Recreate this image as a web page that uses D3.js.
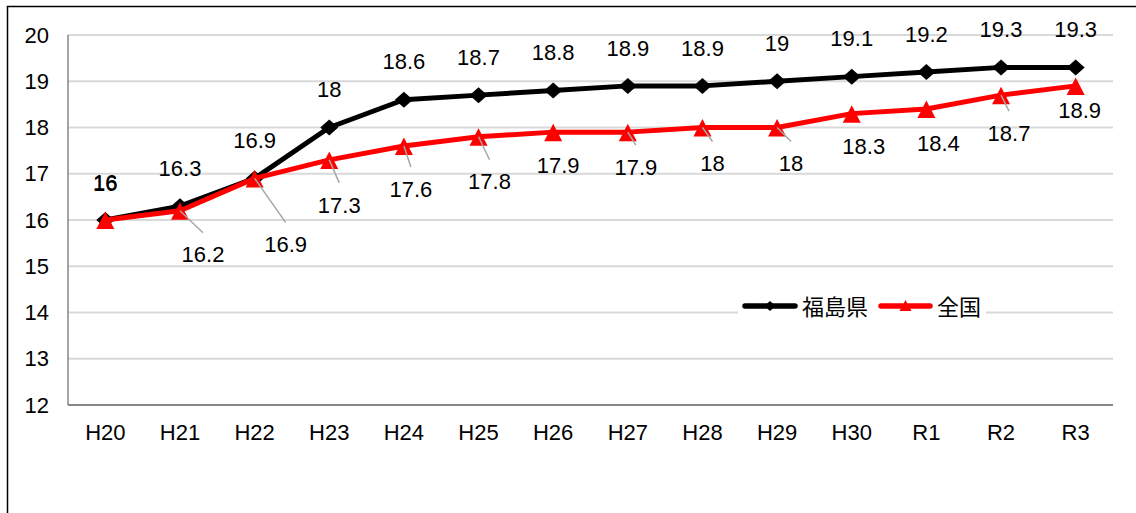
<!DOCTYPE html>
<html>
<head>
<meta charset="utf-8">
<script src="https://cdn.jsdelivr.net/npm/d3@7"></script>
<style>
  html, body { margin: 0; padding: 0; background: #fff; }
  svg { display: block; }
  text { font-family: "Liberation Sans", "Noto Sans CJK JP", sans-serif; fill: #000; }
</style>
</head>
<body>
<svg id="chart" width="1136" height="513"></svg>
<script>
// ----- data -----
const years = ['H20','H21','H22','H23','H24','H25','H26','H27','H28','H29','H30','R1','R2','R3'];
const fukushima = [16, 16.3, 16.9, 18, 18.6, 18.7, 18.8, 18.9, 18.9, 19, 19.1, 19.2, 19.3, 19.3];
const national  = [16, 16.2, 16.9, 17.3, 17.6, 17.8, 17.9, 17.9, 18, 18, 18.3, 18.4, 18.7, 18.9];
const yTicks = [12, 13, 14, 15, 16, 17, 18, 19, 20];
const seriesNames = ['福島県', '全国'];

// label placement for the red series (moved labels in the original, px offsets from the point)
const redLabelOffset = [
  [0,-37],[23,44],[31,66],[10,45],[7,43],[11,45],[5,33],
  [8,35],[10,36],[14,36],[12,33],[12,34],[8,38],[4,24]
];
const redLeader = [false,true,true,true,true,true,false,true,true,true,false,false,true,false];

// ----- layout -----
const svg = d3.select('#chart');
const plotL = 68, plotR = 1113, plotT = 35, plotB = 405;
const fs = 22;

const x = d3.scalePoint().domain(years).range([plotL, plotR]).padding(0.5);
const y = d3.scaleLinear().domain([12, 20]).range([plotB, plotT]);

// outer frame (cut off at right/bottom like the screenshot)
svg.append('rect')
  .attr('x', 7.5).attr('y', 6.5).attr('width', 1200).attr('height', 600)
  .attr('fill', '#fff').attr('stroke', '#000').attr('stroke-width', 1.5);

// gridlines
svg.append('g').selectAll('line')
  .data(yTicks.filter(d => d > 12))
  .join('line')
  .attr('x1', plotL).attr('x2', plotR)
  .attr('y1', d => y(d)).attr('y2', d => y(d))
  .attr('stroke', '#d9d9d9').attr('stroke-width', 2);

// axes lines
svg.append('line')
  .attr('x1', plotL).attr('x2', plotL).attr('y1', plotT).attr('y2', plotB)
  .attr('stroke', '#868686').attr('stroke-width', 1.5);
svg.append('line')
  .attr('x1', plotL).attr('x2', plotR).attr('y1', plotB).attr('y2', plotB)
  .attr('stroke', '#868686').attr('stroke-width', 2);

// y tick labels
svg.append('g').selectAll('text')
  .data(yTicks)
  .join('text')
  .attr('x', 49).attr('y', d => y(d))
  .attr('dy', '0.35em')
  .attr('text-anchor', 'end')
  .attr('font-size', fs)
  .text(d => d);

// x tick labels
svg.append('g').selectAll('text')
  .data(years)
  .join('text')
  .attr('x', d => x(d)).attr('y', 440)
  .attr('text-anchor', 'middle')
  .attr('font-size', fs)
  .text(d => d);

const line = d3.line().x((d, i) => x(years[i])).y(d => y(d));
const diamond = 'M0,-8L9,0L0,8L-9,0Z';
const triangle = 'M0,-8.5L9,9L-9,9Z';

// 福島県 (black)
svg.append('path').datum(fukushima)
  .attr('d', line).attr('fill', 'none')
  .attr('stroke', '#000').attr('stroke-width', 5).attr('stroke-linejoin', 'round');
svg.append('g').selectAll('path')
  .data(fukushima)
  .join('path')
  .attr('d', diamond)
  .attr('transform', (d, i) => `translate(${x(years[i])},${y(d)})`)
  .attr('fill', '#000');

// 全国 (red)
svg.append('path').datum(national)
  .attr('d', line).attr('fill', 'none')
  .attr('stroke', '#ff0000').attr('stroke-width', 5).attr('stroke-linejoin', 'round');
svg.append('g').selectAll('path')
  .data(national)
  .join('path')
  .attr('d', triangle)
  .attr('transform', (d, i) => `translate(${x(years[i])},${y(d)})`)
  .attr('fill', '#ff0000');

// leader lines for red labels
svg.append('g').selectAll('line')
  .data(national.map((d, i) => ({ d, i })).filter(o => redLeader[o.i]))
  .join('line')
  .attr('x1', o => x(years[o.i])).attr('y1', o => y(o.d))
  .attr('x2', o => x(years[o.i]) + redLabelOffset[o.i][0])
  .attr('y2', o => y(o.d) + redLabelOffset[o.i][1] - 22)
  .attr('stroke', '#a6a6a6').attr('stroke-width', 1.5);

// data labels
svg.append('g').selectAll('text')
  .data(fukushima)
  .join('text')
  .attr('x', (d, i) => x(years[i]))
  .attr('y', d => y(d) - 38)
  .attr('dy', '0.35em')
  .attr('text-anchor', 'middle')
  .attr('font-size', fs)
  .text(d => d);
svg.append('g').selectAll('text')
  .data(national)
  .join('text')
  .attr('x', (d, i) => x(years[i]) + redLabelOffset[i][0])
  .attr('y', (d, i) => y(d) + redLabelOffset[i][1])
  .attr('dy', '0.35em')
  .attr('text-anchor', 'middle')
  .attr('font-size', fs)
  .text(d => d);

// legend
const lg = svg.append('g');
lg.append('rect').attr('x', 738).attr('y', 294).attr('width', 248).attr('height', 26).attr('fill', '#fff');
const legendItems = [
  { name: seriesNames[0], color: '#000', marker: 'M0,-5L5.5,0L0,5L-5.5,0Z', x0: 745, x1: 795, tx: 802 },
  { name: seriesNames[1], color: '#ff0000', marker: 'M0,-6L6,5L-6,5Z', x0: 881, x1: 930, tx: 937 }
];
legendItems.forEach(it => {
  lg.append('line')
    .attr('x1', it.x0).attr('x2', it.x1).attr('y1', 306).attr('y2', 306)
    .attr('stroke', it.color).attr('stroke-width', 5.5).attr('stroke-linecap', 'round');
  lg.append('path')
    .attr('d', it.marker)
    .attr('transform', `translate(${(it.x0 + it.x1) / 2},306)`)
    .attr('fill', it.color);
  lg.append('text')
    .attr('x', it.tx).attr('y', 307)
    .attr('dy', '0.35em')
    .attr('font-size', 22)
    .style('font-family', '"Noto Sans CJK JP", sans-serif')
    .text(it.name);
});
</script>
</body>
</html>
